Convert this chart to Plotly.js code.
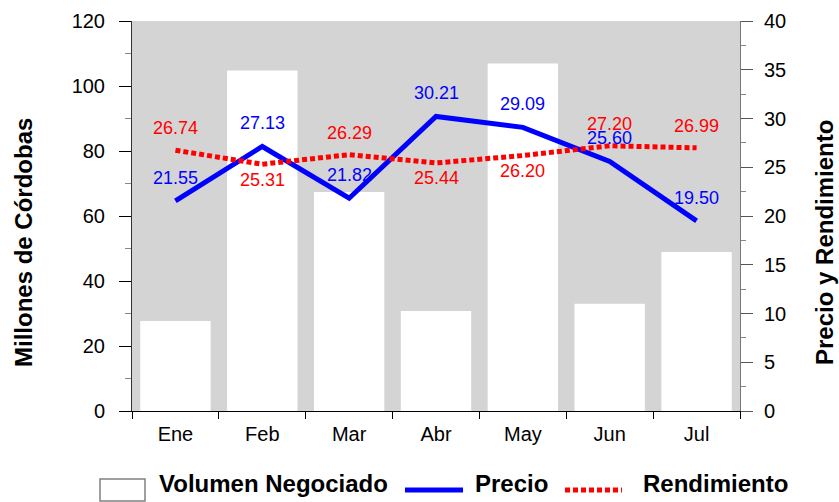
<!DOCTYPE html>
<html><head><meta charset="utf-8">
<script src="https://cdn.plot.ly/plotly-3.0.1.min.js"></script>
<style>html,body{margin:0;padding:0;background:#fff}#chart{width:839px;height:502px}</style>
</head><body><div id="chart"></div>
<script>
const months = ["Ene","Feb","Mar","Abr","May","Jun","Jul"];
const volumen = [27.7, 104.8, 67.4, 30.8, 106.9, 33.0, 48.9];
const precio = [21.55, 27.13, 21.82, 30.21, 29.09, 25.60, 19.50];
const rendimiento = [26.74, 25.31, 26.29, 25.44, 26.20, 27.20, 26.99];
const rendLabelSide = ["above","below","above","below","below","above","above"];
const seriesNames = ["Volumen Negociado","Precio","Rendimiento"];
const leftTitle = "Millones de Córdobas";
const rightTitle = "Precio y Rendimiento";

const W = 839, H = 502, M = {l:132, r:99, t:21, b:91};
const PW = W - M.l - M.r, PH = H - M.t - M.b;
const px = x => (x - M.l) / PW;
const py = y => (H - M.b - y) / PH;
const FONT = "Arial, 'Liberation Sans', sans-serif";
const BLUE = "#0000ff", RED = "#ff0000";
const DOT = "5px,3px";

const traces = [
  {type:"bar", x:months, y:volumen, name:seriesNames[0],
   marker:{color:"#ffffff", line:{width:0}}, hoverinfo:"skip"},
  {type:"scatter", mode:"lines", x:months, y:precio, yaxis:"y2", name:seriesNames[1],
   line:{color:BLUE, width:5}, hoverinfo:"skip"},
  {type:"scatter", mode:"lines", x:months, y:rendimiento, yaxis:"y2", name:seriesNames[2],
   line:{color:RED, width:5, dash:DOT}, hoverinfo:"skip"}
];

const annotations = [];
months.forEach((m, i) => {
  annotations.push({x:m, y:precio[i], xref:"x", yref:"y2", text:precio[i].toFixed(2),
    showarrow:false, yshift:23, xanchor:"center", yanchor:"middle",
    font:{family:FONT, size:18, color:BLUE}});
  annotations.push({x:m, y:rendimiento[i], xref:"x", yref:"y2", text:rendimiento[i].toFixed(2),
    showarrow:false, yshift: rendLabelSide[i] === "above" ? 22 : -15.5, xanchor:"center", yanchor:"middle",
    font:{family:FONT, size:18, color:RED}});
});
// axis titles
annotations.push({xref:"paper", yref:"paper", x:px(23), y:py(243), text:"<b>"+leftTitle+"</b>",
  textangle:-90, showarrow:false, xanchor:"center", yanchor:"middle", font:{family:FONT, size:24, color:"#000"}});
annotations.push({xref:"paper", yref:"paper", x:px(824), y:py(243), text:"<b>"+rightTitle+"</b>",
  textangle:-90, showarrow:false, xanchor:"center", yanchor:"middle", font:{family:FONT, size:24, color:"#000"}});
// legend texts
const legendTextX = [157, 472.7, 641];
seriesNames.forEach((n, i) => {
  annotations.push({xref:"paper", yref:"paper", x:px(legendTextX[i]), y:py(483), text:"<b>"+n+"</b>",
    showarrow:false, xanchor:"left", yanchor:"middle", font:{family:FONT, size:24, color:"#000"}});
});

const shapes = [
  {type:"rect", xref:"paper", yref:"paper", x0:px(100), x1:px(145), y0:py(501), y1:py(479),
   line:{color:"#808080", width:1.5}, fillcolor:"#ffffff"},
  {type:"line", xref:"paper", yref:"paper", x0:px(405), x1:px(463), y0:py(490), y1:py(490),
   line:{color:BLUE, width:5}},
  {type:"line", xref:"paper", yref:"paper", x0:px(565), x1:px(622), y0:py(490), y1:py(490),
   line:{color:RED, width:5, dash:DOT}}
];

const layout = {
  width:W, height:H, margin:M, showlegend:false,
  paper_bgcolor:"#ffffff", plot_bgcolor:"#d4d4d4",
  font:{family:FONT, size:20, color:"#000"},
  bargap:0.19,
  xaxis:{type:"category", range:[-0.5, 6.5], ticks:"outside", tickson:"boundaries", ticklen:7,
    ticklabelstandoff:5,
    tickcolor:"#000", showline:true, linecolor:"#000", linewidth:1, showgrid:false, zeroline:false,
    tickfont:{family:FONT, size:20, color:"#000"}, fixedrange:true},
  yaxis:{range:[0,120], dtick:20, ticks:"outside", ticklen:12, ticklabelstandoff:10, tickcolor:"#000", showline:true,
    linecolor:"#333", linewidth:1, showgrid:false, zeroline:false,
    minor:{dtick:10, ticks:"outside", ticklen:6, tickcolor:"#888", showgrid:false},
    tickfont:{family:FONT, size:20, color:"#000"}, fixedrange:true},
  yaxis2:{overlaying:"y", side:"right", range:[0,40], dtick:5, ticks:"outside", ticklen:12, ticklabelstandoff:7,
    tickcolor:"#555", showline:true, linecolor:"#777", linewidth:1, showgrid:false, zeroline:false,
    minor:{dtick:2.5, ticks:"outside", ticklen:5, tickcolor:"#888", showgrid:false},
    tickfont:{family:FONT, size:20, color:"#000"}, fixedrange:true},
  annotations:annotations, shapes:shapes
};
Plotly.newPlot("chart", traces, layout, {displayModeBar:false, staticPlot:true});
</script></body></html>
